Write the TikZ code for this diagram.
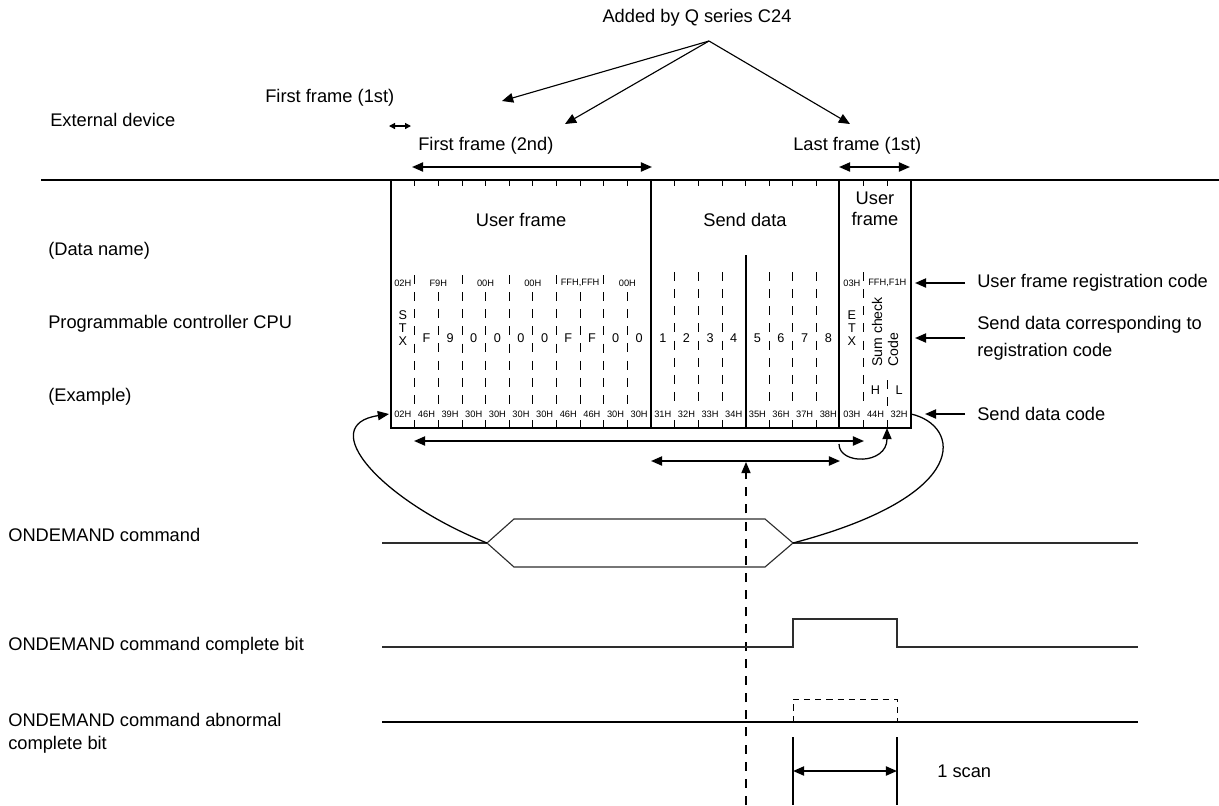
\documentclass[tikz,border=0pt]{standalone}
\usepackage{fontspec}
\setmainfont{Liberation Sans}
\usetikzlibrary{arrows.meta}
\usetikzlibrary{calc}
\definecolor{wavegray}{RGB}{45,45,45}
\newcommand{\drawarrow}{\draw[-{Triangle[length=2.8mm, width=2.3mm]}, line width=1.3pt]}
\newcommand{\drawdarrow}{\draw[{Triangle[length=2.8mm, width=2.3mm]}-{Triangle[length=2.8mm, width=2.3mm]}, line width=1.3pt]}

\begin{document}
\begin{tikzpicture}[x=0.025cm, y=-0.025cm,
    lbl/.style={font=\fontsize{13}{15.6}\selectfont, inner sep=0pt},
    hexcode/.style={font=\fontsize{6.6}{7}\selectfont, inner sep=0pt},
    digit/.style={font=\fontsize{9}{9.4}\selectfont, inner sep=0pt, align=center},
    celldash/.style={line width=0.5pt, dash pattern=on 6.4pt off 5.8pt},
    wave/.style={line width=0.8pt, wavegray}]
    \useasboundingbox (0,0) rectangle (1219,805);

    % Boundary line and frame box
    \draw[line width=1.4pt] (41,180) -- (1219,180);
    \draw[line width=1.4pt] (391,180) rectangle (911,428);
    \draw[line width=1.4pt] (651,180) -- (651,428);
    \draw[line width=1.4pt] (839,180) -- (839,428);
    \draw[line width=1.4pt] ({391+23.636*15},255) -- ({391+23.636*15},428);

    % Cell ticks and dashed cell lines
    \foreach \i in {1,...,10,12,13,14,15,16,17,18,20,21} {
        \draw[line width=0.5pt] ({391+23.636*\i},180) -- ++(0,6);
    }
    \foreach \i in {1,...,10,12,13,14,16,17,18,20,21} {
        \draw[line width=0.5pt] ({391+23.636*\i},420) -- ++(0,8);
    }
    \foreach \i in {1,3,5,7,9} {
        \draw[celldash] ({391+23.636*\i},275) -- ({391+23.636*\i},408);
    }
    \foreach \i in {2,4,6,8,10} {
        \draw[celldash] ({391+23.636*\i},292) -- ({391+23.636*\i},408);
    }
    \foreach \i in {12,13,14,16,17,18,20} {
        \draw[celldash] ({391+23.636*\i},272) -- ({391+23.636*\i},408);
    }
    \draw[celldash] ({391+23.636*21},380) -- ({391+23.636*21},408);

    % Data names
    \node[lbl] (ufname) at (521,220) {User frame};
    \node[lbl] (sdname) at (745,220) {Send data};
    \node[lbl, align=center, font=\fontsize{13}{15}\selectfont] (ufname2) at (875,209) {User\\frame};

    % Registration codes
    \node[hexcode] (t0) at ({391+23.636*0.5},283) {02H};
    \foreach \b/\t in {2/F9H,4/00H,6/00H,8/{FFH,FFH},10/00H} {
        \node[hexcode] (t\b) at ({391+23.636*\b},283) {\t};
    }
    \node[hexcode] (t19) at ({391+23.636*19.5},283) {03H};
    \node[hexcode] (t21) at ({391+23.636*21},283) {FFH,F1H};

    % Send data
    \node[digit] (stx) at ({391+23.636*0.5},328) {S\\T\\X};
    \foreach \i/\t in {1/F,2/9,3/0,4/0,5/0,6/0,7/F,8/F,9/0,10/0,11/1,12/2,13/3,14/4,15/5,16/6,17/7,18/8} {
        \node[digit] (d\i) at ({391+23.636*(\i+0.5)},338) {\t};
    }
    \node[digit] (etx) at ({391+23.636*19.5},328) {E\\T\\X};
    \node[rotate=90, anchor=west, align=left, inner sep=0pt,
        font=\fontsize{10}{11.4}\selectfont] (sumchk) at (885,367) {Sum check\\Code};
    \node[digit] (hi) at ({391+23.636*20.5},390) {H};
    \node[digit] (lo) at ({391+23.636*21.5},390) {L};

    % Send data codes
    \foreach \t [count=\i from 0] in {02H,46H,39H,30H,30H,30H,30H,46H,46H,30H,30H,31H,32H,33H,34H,35H,36H,37H,38H,03H,44H,32H} {
        \node[hexcode] (c\i) at ({391+23.636*(\i+0.5)},414) {\t};
    }

    % Left labels
    \node[lbl, anchor=west] (extdev) at (50,120) {External device};
    \node[lbl, anchor=west] (dname) at (48,251) {(Data name)};
    \node[lbl, anchor=west] (plccpu) at (48,324) {Programmable controller CPU};
    \node[lbl, anchor=west] (exmpl) at (48,397) {(Example)};

    % Frames
    \node[lbl, anchor=west] (ff1) at (265,98) {First frame (1st)};
    \node[lbl, anchor=west] (ff2) at (418,146) {First frame (2nd)};
    \node[lbl, anchor=west] (lf1) at (793,146) {Last frame (1st)};
    \coordinate (ff1a) at (389,126);
    \coordinate (ff1b) at (411,126);
    \draw[{Triangle[length=1.5mm, width=1.5mm]}-{Triangle[length=1.5mm, width=1.5mm]}, line width=0.9pt] (ff1a) -- (ff1b);
    \drawdarrow (412,167) -- (652,167);
    \drawdarrow (839,167) -- (910,167);

    % Added by Q series C24
    \node[lbl] (added) at (697,18) {Added by Q series C24};
    \coordinate (addsrc) at (709,41);
    \draw[-{Triangle[length=2.8mm, width=2.4mm]}, line width=0.8pt] (addsrc) -- (502,101);
    \draw[-{Triangle[length=2.8mm, width=2.4mm]}, line width=0.8pt] (addsrc) -- (565,124);
    \draw[-{Triangle[length=2.8mm, width=2.4mm]}, line width=0.8pt] (addsrc) -- (850,124);

    % Right annotations
    \node[lbl, anchor=west] (regcode) at (977,283) {User frame registration code};
    \node[lbl, anchor=west, align=left, font=\fontsize{13}{19.2}\selectfont] (sdreg) at (977,338) {Send data corresponding to\\registration code};
    \node[lbl, anchor=west] (sdcode) at (977,414) {Send data code};
    \drawarrow ($(regcode.west)+(-12,0)$) -- (915,283);
    \drawarrow ($(sdreg.west)+(-12,0)$) -- (915,338);
    \drawarrow ($(sdcode.west)+(-12,0)$) -- (925,414);

    % Sum check range
    \drawdarrow (414,441) -- (864,441);
    \drawdarrow (651,461) -- (840,461);
    \draw[-{Triangle[length=2.8mm, width=2.3mm]}, line width=0.9pt] (839,444) .. controls (839,465) and (887,465) .. (887,428);
    \draw[-{Triangle[length=2.8mm, width=2.3mm]}, line width=0.9pt, dash pattern=on 6.4pt off 5.8pt] (746,805) -- (746,462);

    % ONDEMAND command
    \node[lbl, anchor=west] (odcmd) at (8,535) {ONDEMAND command};
    \coordinate (hexL) at (487,543);
    \coordinate (hexR) at (793,543);
    \draw[wave] (382,543) -- (hexL);
    \draw[wave] (hexL) -- (514,519) -- (765,519) -- (hexR) -- (765,567) -- (514,567) -- cycle;
    \draw[wave] (hexR) -- (1138,543);
    \draw[-{Triangle[length=2.8mm, width=2.3mm]}, line width=0.9pt] (hexL) .. controls (380,500) and (315,425) .. (389,414);
    \draw[line width=0.9pt] (911,414) .. controls (960,425) and (975,495) .. (hexR);

    % Complete bit
    \node[lbl, anchor=west] (odok) at (8,646) {ONDEMAND command complete bit};
    \draw[wave] (382,647) -- (793,647) -- (793,619) -- (897,619) -- (897,647) -- (1138,647);

    % Abnormal complete bit
    \node[lbl, anchor=west, align=left, font=\fontsize{13}{16.4}\selectfont] (odng) at (8,733.5) {ONDEMAND command abnormal\\complete bit};
    \draw[line width=1.3pt] (382,722) -- (1138,722);
    \draw[line width=0.7pt, dash pattern=on 4.5pt off 3.5pt] (793,722) -- (793,699) -- (897,699) -- (897,722);

    % 1 scan
    \draw[line width=1.3pt] (793,737) -- (793,805);
    \draw[line width=1.3pt] (897,737) -- (897,805);
    \drawdarrow (793,771) -- (897,771);
    \node[lbl, anchor=west] (scan) at (937,771) {1 scan};
\end{tikzpicture}
\end{document}
